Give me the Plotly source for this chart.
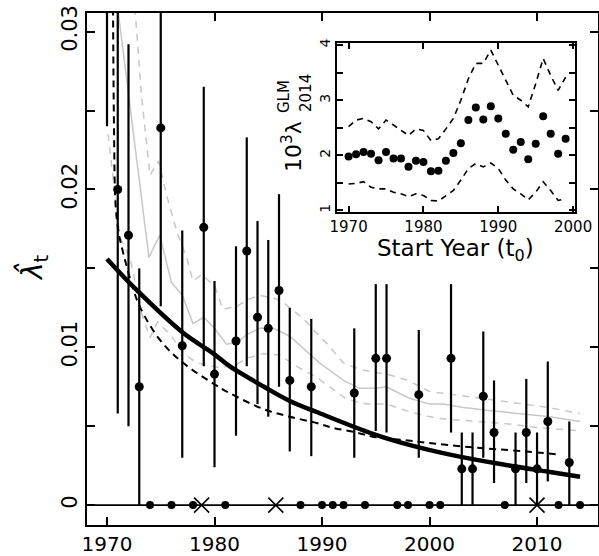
import plotly.graph_objects as go

# ---------------- main panel data ----------------
years = [1970, 1971, 1972, 1973, 1975, 1977, 1979, 1980, 1982, 1983, 1984, 1985, 1986, 1987,
         1989, 1993, 1995, 1996, 1999, 2002, 2003, 2004, 2005, 2006, 2008, 2009, 2010, 2011, 2013]
values = [0.036, 0.0200, 0.0171, 0.0075, 0.0239, 0.0101, 0.0176, 0.0083, 0.0104, 0.0161, 0.0119,
          0.0112, 0.0136, 0.0079, 0.0075, 0.0071, 0.0093, 0.0093, 0.0070, 0.0093, 0.0023, 0.0023,
          0.0069, 0.0046, 0.0023, 0.0046, 0.0023, 0.0053, 0.0027]
lower = [0.0240, 0.0058, 0.0050, 0.0, 0.0126, 0.0030, 0.0088, 0.0024, 0.0044, 0.0088, 0.0064,
         0.0056, 0.0075, 0.0034, 0.0031, 0.0030, 0.0047, 0.0046, 0.0030, 0.0046, 0.0, 0.0,
         0.0030, 0.0014, 0.0, 0.0014, 0.0, 0.0015, 0.0]
upper = [0.060, 0.045, 0.0292, 0.0150, 0.045, 0.0174, 0.0265, 0.0142, 0.0164, 0.0233, 0.0180,
         0.0168, 0.0197, 0.0125, 0.0118, 0.0112, 0.0140, 0.0140, 0.0111, 0.0140, 0.0046, 0.0046,
         0.0110, 0.0079, 0.0046, 0.0080, 0.0046, 0.0091, 0.0053]

zero_years = [1974, 1976, 1978, 1981, 1988, 1990, 1991, 1992, 1994, 1997, 1998, 2000, 2001,
              2007, 2012, 2014]
zero_vals = [0.0] * len(zero_years)
cross_years = [1978.8, 1985.7, 2010.0]
cross_vals = [0.0, 0.0, 0.0]

fit_years = [1970.0, 1972.8, 1977.1, 1979.9, 1981.4, 1984.6, 1987.0, 1989.5, 1994.8, 1998.2,
             2001.9, 2006.6, 2011.2, 2014.0]
fit_vals = [0.0156, 0.0136, 0.0109, 0.0096, 0.0088, 0.0075, 0.0066, 0.0059, 0.0045, 0.0038,
            0.0032, 0.0026, 0.0021, 0.0018]

dash_years = [1970.55, 1970.65, 1970.8, 1971.1, 1971.5, 1972.3, 1973.1, 1975.0, 1977.1, 1979.9,
              1981.4, 1984.5, 1987.0, 1989.5, 1991.0, 1993.2, 1995.0, 1998.0, 2000.4, 2005.0,
              2009.0, 2012.0]
dash_vals = [0.0330, 0.0240, 0.0190, 0.0172, 0.0160, 0.0140, 0.0125, 0.0104, 0.0090, 0.0077,
             0.0071, 0.0061, 0.0056, 0.0052, 0.0049, 0.0046, 0.0043, 0.0041, 0.0039, 0.0036,
             0.0034, 0.0032]

grey_years = [1971.0, 1973.9, 1974.9, 1976.0, 1977.0, 1978.0, 1979.0, 1980.0, 1981.1, 1982.1,
              1983.0, 1984.2, 1985.5, 1987.0, 1988.3, 1989.8, 1992.0, 1993.5, 1995.0, 1996.0,
              1998.0, 2000.0, 2001.3, 2003.0, 2005.5, 2008.5, 2011.2, 2014.0]
grey_vals = [0.0315, 0.0157, 0.0171, 0.0141, 0.0133, 0.0115, 0.0119, 0.0112, 0.0102, 0.0103,
             0.0108, 0.0112, 0.0112, 0.0107, 0.0099, 0.0090, 0.0079, 0.0074, 0.0074, 0.0075,
             0.0068, 0.0064, 0.0064, 0.0062, 0.0060, 0.0058, 0.0056, 0.0053]

grey_up_years = [1972.6, 1973.2, 1974.0, 1974.8, 1975.6, 1976.5, 1977.4, 1978.0, 1978.8, 1980.0,
                 1980.8, 1982.1, 1983.0, 1984.2, 1986.1, 1987.0, 1988.3, 1989.5, 1990.5, 1992.0,
                 1993.5, 1995.0, 1996.0, 1998.0, 2000.0, 2002.2, 2006.6, 2010.9, 2014.0]
grey_up_vals = [0.0315, 0.0260, 0.0209, 0.0218, 0.0195, 0.0173, 0.0157, 0.0142, 0.0146, 0.0139,
                0.0124, 0.0126, 0.0130, 0.0133, 0.0130, 0.0125, 0.0118, 0.0109, 0.0102, 0.0090,
                0.0086, 0.0084, 0.0083, 0.0079, 0.0072, 0.0070, 0.0066, 0.0062, 0.0058]

grey_lo_years = [1970.1, 1971.2, 1972.2, 1973.2, 1974.0, 1974.7, 1975.9, 1977.1, 1978.4, 1980.5,
                 1982.0, 1983.0, 1984.5, 1986.1, 1987.6, 1989.5, 1991.1, 1992.3, 1994.2, 1996.0,
                 1998.2, 2000.7, 2002.5, 2006.6, 2010.3, 2014.0]
grey_lo_vals = [0.0235, 0.0170, 0.0155, 0.0122, 0.0106, 0.0116, 0.0108, 0.0096, 0.0090, 0.0087,
                0.0089, 0.0093, 0.0096, 0.0095, 0.0088, 0.0081, 0.0073, 0.0067, 0.0064, 0.0064,
                0.0059, 0.0055, 0.0054, 0.0052, 0.0049, 0.0047]

main_xticks = [1970, 1980, 1990, 2000, 2010]
main_yticks = [0, 0.005, 0.01, 0.015, 0.02, 0.025, 0.03]
main_yticktext = ["0", "", "0.01", "", "0.02", "", "0.03"]

# ---------------- inset data ----------------
inset_years = [1970, 1971, 1972, 1973, 1974, 1975, 1976, 1977, 1978, 1979, 1980, 1981, 1982,
               1983, 1984, 1985, 1986, 1987, 1988, 1989, 1990, 1991, 1992, 1993, 1994, 1995,
               1996, 1997, 1998, 1999]
inset_vals = [1.98, 2.02, 2.06, 2.03, 1.91, 2.06, 1.94, 1.94, 1.79, 1.90, 1.88, 1.71, 1.72,
              1.90, 2.04, 2.22, 2.64, 2.87, 2.65, 2.89, 2.67, 2.39, 2.10, 2.24, 1.93, 2.21,
              2.71, 2.39, 2.03, 2.30]
inset_hi = [2.52, 2.64, 2.67, 2.61, 2.48, 2.64, 2.55, 2.45, 2.36, 2.48, 2.45, 2.27, 2.30,
            2.48, 2.67, 3.00, 3.39, 3.67, 3.67, 3.91, 3.64, 3.36, 3.09, 3.00, 2.88, 3.30,
            3.76, 3.45, 3.18, 3.42]
inset_lo = [1.48, 1.49, 1.52, 1.42, 1.39, 1.39, 1.33, 1.30, 1.25, 1.30, 1.27, 1.18, 1.17,
            1.27, 1.36, 1.55, 1.76, 1.85, 1.79, 1.86, 1.76, 1.55, 1.39, 1.30, 1.19, 1.33,
            1.52, 1.36, 1.18, 1.21]
inset_xticks = [1970, 1980, 1990, 2000]
inset_yticks = [1, 1.5, 2, 2.5, 3, 3.5, 4]
inset_yticktext = ["1", "", "2", "", "3", "", "4"]

FONT = "DejaVu Sans"
GREY = "#c8c8c8"

fig = go.Figure()

# grey band and estimate
fig.add_trace(go.Scatter(x=grey_up_years, y=grey_up_vals, mode="lines",
                         line=dict(color=GREY, width=1.5, dash="7px,6px"), showlegend=False))
fig.add_trace(go.Scatter(x=grey_lo_years, y=grey_lo_vals, mode="lines",
                         line=dict(color=GREY, width=1.5, dash="7px,6px"), showlegend=False))
fig.add_trace(go.Scatter(x=grey_years, y=grey_vals, mode="lines",
                         line=dict(color=GREY, width=1.5), showlegend=False))

# black dashed curve
fig.add_trace(go.Scatter(x=dash_years, y=dash_vals, mode="lines", line_shape="spline",
                         line=dict(color="black", width=2, dash="7px,5px"), showlegend=False))
# thick fit
fig.add_trace(go.Scatter(x=fit_years, y=fit_vals, mode="lines", line_shape="spline",
                         line=dict(color="black", width=4.5), showlegend=False))

# zero reference line
fig.add_shape(type="line", xref="x domain", x0=0, x1=1, yref="y", y0=0, y1=0,
              line=dict(color="black", width=1.6))

# error bars
err_plus = [u - v for u, v in zip(upper, values)]
err_minus = [v - l for v, l in zip(values, lower)]
fig.add_trace(go.Scatter(x=years, y=values, mode="markers",
                         marker=dict(color="black", size=9, symbol="circle"),
                         error_y=dict(type="data", array=err_plus, arrayminus=err_minus,
                                      symmetric=False, color="black", thickness=2.2, width=0),
                         showlegend=False))
fig.add_trace(go.Scatter(x=zero_years, y=zero_vals, mode="markers",
                         marker=dict(color="black", size=8, symbol="circle"), showlegend=False))
fig.add_trace(go.Scatter(x=cross_years, y=cross_vals, mode="markers",
                         marker=dict(color="black", size=15, symbol="x-thin",
                                     line=dict(color="black", width=1.6)),
                         showlegend=False))

# inset
fig.add_trace(go.Scatter(x=inset_years, y=inset_hi, mode="lines", xaxis="x2", yaxis="y2",
                         line=dict(color="black", width=1.6, dash="6px,5px"), showlegend=False))
fig.add_trace(go.Scatter(x=inset_years, y=inset_lo, mode="lines", xaxis="x2", yaxis="y2",
                         line=dict(color="black", width=1.6, dash="6px,5px"), showlegend=False))
fig.add_trace(go.Scatter(x=inset_years, y=inset_vals, mode="markers", xaxis="x2", yaxis="y2",
                         marker=dict(color="black", size=8), showlegend=False))

W, H = 599, 556
L, R, T, B = 87, 1, 13, 31
pw, ph = W - L - R, H - T - B


def px(xp):
    return (xp - L) / pw


def py(yp):
    return (H - B - yp) / ph


axis_common = dict(showline=True, linecolor="black", linewidth=1.6, mirror="allticks",
                   ticks="inside", tickcolor="black", tickwidth=1.5, showgrid=False,
                   zeroline=False)

fig.update_layout(
    width=W, height=H,
    margin=dict(l=L, r=R, t=T, b=B, autoexpand=False),
    paper_bgcolor="white", plot_bgcolor="white",
    font=dict(family=FONT, color="black"),
    xaxis=dict(range=[1968.14, 2015.67], tickvals=main_xticks, ticklen=8,
               tickfont=dict(size=20, family=FONT), domain=[0, 1], **axis_common),
    yaxis=dict(range=[-0.00126, 0.03118], tickvals=main_yticks, ticktext=main_yticktext,
               ticklen=8, tickangle=-90, tickfont=dict(size=21, family=FONT),
               domain=[0, 1], **axis_common),
    xaxis2=dict(range=[1968.45, 2000.25], tickvals=inset_xticks, ticklen=6,
                tickfont=dict(size=15, family=FONT), anchor="y2",
                domain=[px(337), px(575)], **axis_common),
    yaxis2=dict(range=[0.97, 4.04], tickvals=inset_yticks, ticktext=inset_yticktext,
                ticklen=6, tickangle=-90, tickfont=dict(size=14, family=FONT), anchor="x2",
                domain=[py(212), py(43)], **axis_common),
)

ann = [
    dict(text="<i>λ̂</i><sub>t</sub>", x=px(33), y=py(268), textangle=-90,
         font=dict(size=28, family=FONT)),
    dict(text="Start Year (t<sub>0</sub>)", x=px(455), y=py(250),
         font=dict(size=23, family=FONT)),
    dict(text="10<sup>3</sup>λ", x=px(292), y=py(147), textangle=-90,
         font=dict(size=22, family=FONT)),
    dict(text="GLM", x=px(284), y=py(97), textangle=-90, font=dict(size=15, family=FONT)),
    dict(text="2014", x=px(306), y=py(93), textangle=-90, font=dict(size=15, family=FONT)),
]
for a in ann:
    a.update(xref="paper", yref="paper", showarrow=False, xanchor="center", yanchor="middle")
fig.update_layout(annotations=ann)

fig.write_html("out.html", config={"displayModeBar": False},
               post_script="document.body.style.margin='0px';")
